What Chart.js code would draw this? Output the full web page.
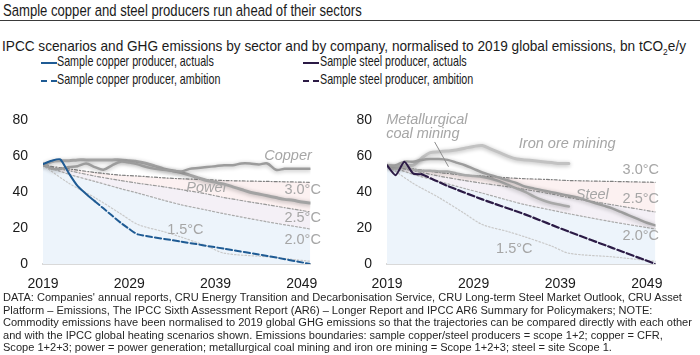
<!DOCTYPE html>
<html>
<head>
<meta charset="utf-8">
<script src="https://cdn.jsdelivr.net/npm/chart.js@4.4.1/dist/chart.umd.min.js"></script>
<style>
  body { margin: 0; width: 700px; height: 355px; background: #fff; position: relative; overflow: hidden;
         font-family: "Liberation Sans", Arial, sans-serif; color: #1a1a1a; }
  .abs { position: absolute; white-space: nowrap; transform-origin: left center; }
  #title { left: 3px; top: 1px; font-size: 16.8px; transform: scaleX(0.78); }
  #rule { left: 0; top: 20px; width: 700px; height: 0; border-top: 1.5px solid #3a3a3a; }
  #subtitle { left: 2px; top: 38px; font-size: 14.5px; transform: scaleX(0.94); }
  .leg { font-size: 14.5px; transform: scaleX(0.74); }
  .swatch { position: absolute; width: 16px; height: 0; }
  canvas { position: absolute; }
  #note { left: 3px; top: 291px; font-size: 11.05px; line-height: 12.5px; color: #262626; }
</style>
</head>
<body>
<div id="title" class="abs">Sample copper and steel producers run ahead of their sectors</div>
<div id="rule" class="abs"></div>
<div id="subtitle" class="abs">IPCC scenarios and GHG emissions by sector and by company, normalised to 2019 global emissions, bn tCO<sub style="font-size:9px">2</sub>e/y</div>

<div class="swatch" style="left:41px;top:62px;border-top:2px solid #1f5b94"></div>
<div class="abs leg" style="left:57px;top:53px">Sample copper producer, actuals</div>
<div class="swatch" style="left:41px;top:80px;border-top:2px dashed #1f5b94"></div>
<div class="abs leg" style="left:57px;top:71px">Sample copper producer, ambition</div>
<div class="swatch" style="left:303px;top:62px;border-top:2px solid #2b1a45"></div>
<div class="abs leg" style="left:320px;top:53px">Sample steel producer, actuals</div>
<div class="swatch" style="left:303px;top:80px;border-top:2px dashed #2b1a45"></div>
<div class="abs leg" style="left:320px;top:71px">Sample steel producer, ambition</div>

<canvas id="copperChart" width="330" height="197" style="left:0;top:97px"></canvas>
<canvas id="steelChart" width="330" height="197" style="left:345px;top:97px"></canvas>

<div id="note" class="abs">DATA: Companies' annual reports, CRU Energy Transition and Decarbonisation Service, CRU Long-term Steel Market Outlook, CRU Asset<br>Platform – Emissions, The IPCC Sixth Assessment Report (AR6) – Longer Report and IPCC AR6 Summary for Policymakers; NOTE:<br>Commodity emissions have been normalised to 2019 global GHG emissions so that the trajectories can be compared directly with each other<br>and with the IPCC global heating scenarios shown. Emissions boundaries: sample copper/steel producers = scope 1+2; copper = CFR,<br>Scope 1+2+3; power = power generation; metallurgical coal mining and iron ore mining = Scope 1+2+3; steel = site Scope 1.</div>

<script>
// Axis ticks
const tickYears = [2019, 2029, 2039, 2049];

// IPCC scenario pathways, same on both panels (bn tCO2e/y)
const scenarioYears = [2019, 2022, 2025, 2028, 2030, 2033, 2035, 2038, 2040, 2045, 2050];
const scen30 = [55, 53, 51, 49.5, 49, 48, 47.5, 47, 46.5, 46, 45.5];
const scen25 = [55, 52, 49, 46.5, 45, 43, 41.5, 39, 37, 33, 29];
const scen20 = [55, 50, 46, 42, 39.5, 35.5, 33, 30, 28, 23.5, 19.5];
const scen15 = [55, 45, 37, 28, 22, 18, 15, 10, 6, 4, 1.5];

// Copper panel
const sectorYears = [2019, 2020, 2021, 2022, 2023, 2024, 2025, 2026, 2027, 2028, 2029, 2030, 2031, 2032, 2033, 2034,
  2035, 2036, 2037, 2038, 2039, 2040, 2041, 2042, 2043, 2044, 2045, 2046, 2047, 2048, 2049, 2050];
const copperSector = [56, 53, 53, 54, 54.5, 56, 54, 52.5, 55, 57, 56.5, 55.5, 54, 53, 52.5, 52,
  51.5, 53, 53.5, 54, 54.5, 55, 55, 56, 56, 55.5, 56, 52.5, 53, 53, 53, 53];
const powerSector = [55, 57, 57.5, 57.5, 58, 58, 58, 58, 58, 58, 57.5, 57, 56, 54.5, 53, 52,
  51, 49.5, 48, 46.5, 45.5, 44.5, 43, 41.5, 40, 39, 38, 37, 36, 35.5, 34.5, 34];
const copperActualYears = [2019, 2020, 2021, 2022, 2023, 2024, 2025];
const copperActual = [55.7, 57.5, 58.3, 50.5, 43.5, 39, 35];
const copperAmbitionYears = [2025, 2026, 2027, 2028, 2029, 2030, 2035, 2040, 2045, 2050];
const copperAmbition = [35, 31, 27, 23, 19.5, 16.5, 12.5, 8.5, 4.5, 0];

// Steel panel
const steelSector = [55, 55, 57, 57, 58, 58.5, 58.5, 58, 56.5, 55, 53, 51, 49.5, 48, 46.5, 45,
  43, 42, 41, 40, 39, 38, 37, 35.5, 34, 32.5, 31, 29, 27, 25, 23, 21.5];
const miningYears = [2019, 2020, 2021, 2022, 2023, 2024, 2025, 2026, 2027, 2028, 2029, 2030, 2031,
  2032, 2033, 2034, 2035, 2036, 2037, 2038, 2039, 2040];
const ironOre = [55, 54, 55, 55, 59, 62, 62.5, 63, 63.5, 64.5, 65.5, 66, 64, 62, 60, 58.5, 58, 57.5, 57, 56.5, 56, 56];
const metCoal = [55, 53, 54, 52.5, 52, 52, 51.5, 51.5, 50.5, 49.5, 49, 48.5, 47.5, 46, 44, 42, 40, 37.5, 35.5, 34, 33, 32];
const steelActualYears = [2019, 2020, 2021, 2022, 2023];
const steelActual = [55, 49.5, 57, 50.5, 50];
const steelAmbitionYears = [2023, 2026, 2030, 2035, 2040, 2045, 2050];
const steelAmbition = [50, 43.5, 36, 27.5, 18, 9, 0];

function pts(xs, ys) {
  return xs.map((x, i) => ({ x: x, y: ys[i] }));
}

function scenarioSets(first) {
  // first = index of the 1.5°C dataset in the list
  return [
    { data: pts(scenarioYears, scen15), borderColor: "#c9c9c9", borderWidth: 1.2, borderDash: [1.5, 2], fill: false },
    { data: pts(scenarioYears, scen20), borderColor: "#ababab", borderWidth: 1.2, borderDash: [2, 2],
      fill: "origin", backgroundColor: "#edf4fb" },
    { data: pts(scenarioYears, scen25), borderColor: "#9a9a9a", borderWidth: 1.2, borderDash: [3, 2, 1, 2],
      fill: first + 1, backgroundColor: "#f4f0f6" },
    { data: pts(scenarioYears, scen30), borderColor: "#7f7f7f", borderWidth: 1.2, borderDash: [3, 2, 1, 2],
      fill: first + 2, backgroundColor: "#fcf1f1" },
  ];
}

// Soft shadow under the thick grey sector lines
const glowPlugin = {
  id: "glow",
  beforeDatasetDraw(chart, args) {
    if (!args.meta._dataset.glow) return;
    const ctx = chart.ctx;
    ctx.save();
    ctx.shadowColor = "rgba(0,0,0,0.3)";
    ctx.shadowBlur = 4;
    ctx.shadowOffsetY = 1;
  },
  afterDatasetDraw(chart, args) {
    if (args.meta._dataset.glow) chart.ctx.restore();
  },
};

function labelPlugin(items, leaders) {
  return {
    id: "labels",
    afterDatasetsDraw(chart) {
      const ctx = chart.ctx;
      const xs = chart.scales.x, ys = chart.scales.y;
      ctx.save();
      ctx.fillStyle = "#a6a6a6";
      ctx.strokeStyle = "#8c8c8c";
      ctx.lineWidth = 1;
      ctx.textBaseline = "middle";
      items.forEach((it) => {
        ctx.font = (it.italic ? "italic " : "") + "14.5px 'Liberation Sans', Arial, sans-serif";
        ctx.textAlign = it.align || "center";
        ctx.fillText(it.text, xs.getPixelForValue(it.x), ys.getPixelForValue(it.y));
      });
      leaders.forEach((l) => {
        ctx.beginPath();
        ctx.moveTo(xs.getPixelForValue(l[0]), ys.getPixelForValue(l[1]));
        ctx.lineTo(xs.getPixelForValue(l[2]), ys.getPixelForValue(l[3]));
        ctx.stroke();
      });
      ctx.restore();
    },
  };
}

function makeChart(id, datasets, yWidth, padRight, labels, leaders) {
  const tickFont = { family: "'Liberation Sans', Arial, sans-serif", size: 14 };
  return new Chart(document.getElementById(id), {
    type: "line",
    data: { datasets: datasets },
    options: {
      responsive: false,
      animation: false,
      layout: { padding: { top: 12, right: padRight, bottom: 0, left: 0 } },
      elements: { point: { radius: 0 }, line: { tension: 0.3, borderCapStyle: "round" } },
      plugins: { legend: { display: false }, tooltip: { enabled: false }, filler: { drawTime: "beforeDatasetsDraw" } },
      scales: {
        x: {
          type: "linear", min: 2019, max: 2050,
          afterBuildTicks: (s) => { s.ticks = tickYears.map((v) => ({ value: v })); },
          afterFit: (s) => { s.height = 30; },
          grid: { display: false, drawTicks: false },
          border: { display: true, color: "#d9d9d9", width: 2 },
          ticks: { font: tickFont, color: "#1a1a1a", padding: 12, maxRotation: 0, callback: (v) => String(v) },
        },
        y: {
          min: 0, max: 80,
          afterFit: (s) => { s.width = yWidth; },
          grid: { display: false, drawTicks: false },
          border: { display: false },
          ticks: { stepSize: 20, font: tickFont, color: "#1a1a1a", padding: 15 },
        },
      },
    },
    plugins: [glowPlugin, labelPlugin(labels, leaders)],
  });
}

// Left panel: copper
const copperSets = [
  { data: pts(copperActualYears, copperActual), borderColor: "#1f5b94", borderWidth: 2, tension: 0.2 },
  { data: pts(copperAmbitionYears, copperAmbition), borderColor: "#1f5b94", borderWidth: 2, borderDash: [6, 3], tension: 0.2 },
  { data: pts(sectorYears, copperSector), borderColor: "#9c9c9c", borderWidth: 2.5, glow: true },
  { data: pts(sectorYears, powerSector), borderColor: "#a3a3a3", borderWidth: 3, glow: true },
].concat(scenarioSets(4));

makeChart("copperChart", copperSets, 43, 19, [
  { text: "Copper", x: 2047.4, y: 60.4, italic: true },
  { text: "Power", x: 2038, y: 42.3, italic: true },
  { text: "3.0°C", x: 2049.1, y: 41.3 },
  { text: "2.5°C", x: 2049.1, y: 25.8 },
  { text: "2.0°C", x: 2049.1, y: 13.4 },
  { text: "1.5°C", x: 2035.5, y: 19.1 },
], []);

// Right panel: steel
const steelSets = [
  { data: pts(steelActualYears, steelActual), borderColor: "#2b1a45", borderWidth: 2, tension: 0.2 },
  { data: pts(steelAmbitionYears, steelAmbition), borderColor: "#2b1a45", borderWidth: 2.2, borderDash: [7, 3], tension: 0.2 },
  { data: pts(sectorYears, steelSector), borderColor: "#9c9c9c", borderWidth: 2.5, glow: true },
  { data: pts(miningYears, metCoal), borderColor: "#a8a8a8", borderWidth: 2.5, glow: true },
  { data: pts(miningYears, ironOre), borderColor: "#c2c2c2", borderWidth: 3, glow: true },
].concat(scenarioSets(5));

makeChart("steelChart", steelSets, 42, 18, [
  { text: "Metallurgical", x: 2018.9, y: 80.5, italic: true, align: "left" },
  { text: "coal mining", x: 2018.9, y: 72.3, italic: true, align: "left" },
  { text: "Iron ore mining", x: 2039.8, y: 66.6, italic: true },
  { text: "3.0°C", x: 2048.3, y: 52.6 },
  { text: "Steel", x: 2042.7, y: 38.7, italic: true },
  { text: "2.5°C", x: 2048.3, y: 36.1 },
  { text: "2.0°C", x: 2048.3, y: 15.5 },
  { text: "1.5°C", x: 2033.7, y: 8.3 },
], [[2024.5, 68, 2026.1, 54.2]]);
</script>
</body>
</html>
